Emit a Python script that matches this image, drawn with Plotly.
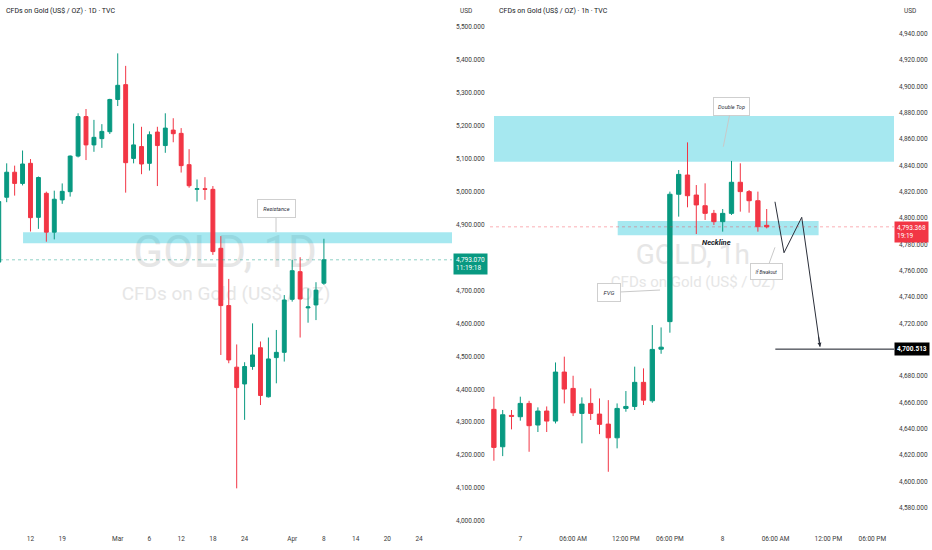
import plotly.graph_objects as go

# ---- daily panel (bar index, last bar = 8 Apr) ----
d_bar = list(range(-1, 41))
d_open = [4786, 4983, 5059, 5025, 5086, 4922, 4995, 4877, 4975, 5000,
          5108, 5228, 5142, 5161, 5182, 5280, 5325, 5101, 5137, 5086,
          5181, 5140, 5187, 5177, 5082, 5007, 5009, 5007, 4828, 4654,
          4467, 4416, 4469, 4526, 4377, 4496, 4512, 4673, 4757, 4647,
          4656, 4722]
d_high = [4975, 5086, 5079, 5125, 5099, 5046, 5000, 5003, 5025, 5110,
          5238, 5251, 5218, 5205, 5282, 5420, 5382, 5207, 5197, 5183,
          5197, 5238, 5223, 5193, 5129, 5037, 5044, 5017, 4865, 4735,
          4536, 4482, 4600, 4545, 4557, 4580, 4686, 4793, 4801, 4706,
          4725, 4857]
d_low = [4775, 4968, 4988, 5019, 4879, 4887, 4848, 4855, 4963, 4985,
         5104, 5096, 5121, 5133, 5175, 5260, 4997, 5086, 5053, 5064,
         5017, 5118, 5150, 5058, 5012, 4970, 4975, 4808, 4504, 4479,
         4099, 4307, 4459, 4352, 4375, 4418, 4484, 4666, 4557, 4602,
         4610, 4717]
d_close = [4970, 5059, 5025, 5084, 4921, 5043, 4877, 4977, 5001, 5108,
           5228, 5142, 5165, 5183, 5280, 5323, 5088, 5142, 5084, 5173,
           5140, 5193, 5176, 5079, 5018, 5009, 5007, 4818, 4654, 4489,
           4405, 4469, 4504, 4381, 4492, 4512, 4671, 4760, 4674, 4650,
           4701, 4793.07]
d_tickvals = [3, 7, 14, 18, 22, 26, 30, 36, 40, 44, 48, 52]
d_ticktext = ["12", "19", "Mar", "6", "12", "18", "24", "Apr", "8", "14", "20", "24"]
d_price_ticks = [4000, 4100, 4200, 4300, 4400, 4500, 4600, 4700,
                 4900, 5000, 5100, 5200, 5300, 5400, 5500]
resistance_zone = [4843, 4877]
d_last = 4793.07

# ---- hourly panel (bar index, 0 = 7 Apr 00:00) ----
h_bar = list(range(-3, 29))
h_open = [4654.8, 4626.4, 4650.2, 4649.2, 4659.3, 4642.9, 4653.5, 4645.9,
          4683.1, 4670.7, 4651.7, 4659.3, 4651.2, 4643.6, 4633.2, 4655.5,
          4657.0, 4675.3, 4661.3, 4700.5, 4721.4, 4818.1, 4832.7, 4817.5,
          4809.4, 4803.6, 4797.3, 4803.6, 4827.2, 4820.1, 4813.2, 4794.5]
h_high = [4664.4, 4654.3, 4654.3, 4664.4, 4661.3, 4656.3, 4657.0, 4690.4,
          4694.8, 4680.3, 4663.9, 4670.7, 4663.1, 4661.8, 4659.3, 4668.7,
          4687.2, 4685.9, 4718.8, 4717.0, 4820.1, 4836.5, 4857.5, 4825.1,
          4826.4, 4806.2, 4806.9, 4843.4, 4841.6, 4821.3, 4820.1, 4806.9]
h_low = [4615.8, 4619.3, 4639.6, 4646.2, 4622.6, 4637.6, 4637.6, 4644.1,
         4659.3, 4649.7, 4629.0, 4646.7, 4636.0, 4607.4, 4625.2, 4653.0,
         4654.3, 4658.1, 4659.8, 4697.0, 4713.0, 4801.1, 4808.2, 4787.9,
         4798.6, 4794.8, 4789.7, 4802.4, 4804.9, 4804.1, 4789.7, 4792.2]
h_close = [4625.9, 4650.7, 4649.5, 4659.3, 4642.4, 4653.5, 4645.9, 4683.1,
           4670.2, 4652.2, 4658.8, 4651.7, 4643.4, 4633.2, 4655.5, 4657.0,
           4675.3, 4661.8, 4700.3, 4702.0, 4818.1, 4833.2, 4817.0, 4810.0,
           4803.6, 4797.3, 4803.6, 4827.2, 4820.1, 4813.2, 4793.5, 4793.368]
h_tickvals = [0, 6, 12, 17, 23, 29, 35, 40]
h_ticktext = ["7", "06:00 AM", "12:00 PM", "06:00 PM", "8", "06:00 AM", "12:00 PM", "06:00 PM"]
h_price_ticks = [4580, 4600, 4620, 4640, 4660, 4680, 4720, 4740, 4760,
                 4780, 4800, 4820, 4840, 4860, 4880, 4900, 4920, 4940]
double_top_zone = [4842.8, 4877.5]
neckline_zone = [4786.9, 4797.8]
neckline_bars = [11.07, 33.9]
h_last = 4793.368
target = 4700.513
path_x = [28.94, 29.97, 31.98, 34.06]
path_y = [4812.4, 4773.7, 4800.6, 4702.3]

W, H = 932, 550
FONT = "Roboto"
UP, DN = "#089981", "#F23645"
TXT = "#2a2e39"
WM = "#e6e6e6"
ZONE = "rgba(0,188,212,0.35)"
top_px, bot_px = 20, 530
ydom = [1 - bot_px / H, 1 - top_px / H]
tickfont = dict(family=FONT, size=6.5, color="#3a3a3a")


def candles(x, o, h, l, c, xa, ya):
    return go.Candlestick(
        x=x, open=o, high=h, low=l, close=c, xaxis=xa, yaxis=ya,
        increasing=dict(line=dict(color=UP, width=1), fillcolor=UP),
        decreasing=dict(line=dict(color=DN, width=1), fillcolor=DN),
        whiskerwidth=0, hoverinfo="skip")


fig = go.Figure()
fig.add_trace(candles(d_bar, d_open, d_high, d_low, d_close, "x", "y"))
fig.add_trace(candles(h_bar, h_open, h_high, h_low, h_close, "x2", "y2"))
fig.add_trace(go.Scatter(x=path_x, y=path_y, xaxis="x2", yaxis="y2", mode="lines",
                         line=dict(color=TXT, width=1), hoverinfo="skip"))


def watermark(xr, yr, cx, cy, text, size):
    return dict(type="rect", xref=xr, yref=yr, x0=cx - 0.05, x1=cx + 0.05,
                y0=cy - 0.02, y1=cy + 0.02, line=dict(width=0),
                fillcolor="rgba(0,0,0,0)", layer="below",
                label=dict(text=text, textposition="middle center",
                           font=dict(family=FONT, size=size, color=WM)))


shapes = [
    watermark("x domain", "y domain", 0.498, 0.551, "GOLD, 1D", 44),
    watermark("x domain", "y domain", 0.5, 0.465, "CFDs on Gold (US$ / OZ)", 19),
    watermark("x2 domain", "y2 domain", 0.502, 0.545, "GOLD, 1h", 28),
    watermark("x2 domain", "y2 domain", 0.503, 0.488, "CFDs on Gold (US$ / OZ)", 15),
    dict(type="rect", xref="x", yref="y", x0=2.06, x1=56.15,
         y0=resistance_zone[0], y1=resistance_zone[1],
         line=dict(width=0), fillcolor=ZONE, layer="below"),
    dict(type="rect", xref="x2", yref="y2", x0=-2.99, x1=42.47,
         y0=double_top_zone[0], y1=double_top_zone[1],
         line=dict(width=0), fillcolor=ZONE, layer="below"),
    dict(type="rect", xref="x2", yref="y2", x0=neckline_bars[0], x1=neckline_bars[1],
         y0=neckline_zone[0], y1=neckline_zone[1],
         line=dict(width=0), fillcolor=ZONE, layer="below"),
    dict(type="line", xref="x domain", yref="y", x0=0, x1=1, y0=d_last, y1=d_last,
         line=dict(color="rgba(8,153,129,0.45)", width=1, dash="dot")),
    dict(type="line", xref="x2 domain", yref="y2", x0=0, x1=1, y0=h_last, y1=h_last,
         line=dict(color="rgba(242,54,69,0.4)", width=1, dash="dot")),
    dict(type="line", xref="x2", yref="y2", x0=28.98, x1=42.47, y0=target, y1=target,
         line=dict(color="#131722", width=1)),
]


def callout(x, y, xr, yr, text, ax, ay, w, h, size):
    return dict(x=x, y=y, xref=xr, yref=yr, text="<i>" + text + "</i>",
                showarrow=True, ax=ax, ay=ay, arrowhead=0, arrowwidth=1,
                arrowcolor="#c9c9c9", standoff=0, bgcolor="white",
                bordercolor="#cfcfcf", borderwidth=1, borderpad=2,
                width=w, height=h, font=dict(family=FONT, size=size, color=TXT))


def tag(x, y, yr, text, bg, shift):
    return dict(x=x, y=y, xref="paper", yref=yr, text=text, showarrow=False,
                xanchor="left", yanchor="middle", align="left", yshift=shift,
                bgcolor=bg, borderpad=2,
                font=dict(family=FONT, size=6.5, color="white"))


annotations = [
    dict(x=4 / W, y=1 - 11 / H, xref="paper", yref="paper", xanchor="left",
         yanchor="middle", showarrow=False,
         text="CFDs on Gold (US$ / OZ) · 1D · TVC",
         font=dict(family=FONT, size=7, color="#131722")),
    dict(x=497 / W, y=1 - 11 / H, xref="paper", yref="paper", xanchor="left",
         yanchor="middle", showarrow=False,
         text="CFDs on Gold (US$ / OZ) · 1h · TVC",
         font=dict(family=FONT, size=7, color="#131722")),
    dict(x=458 / W, y=1 - 11 / H, xref="paper", yref="paper", xanchor="left",
         yanchor="middle", showarrow=False, text="USD", font=tickfont),
    dict(x=902 / W, y=1 - 11 / H, xref="paper", yref="paper", xanchor="left",
         yanchor="middle", showarrow=False, text="USD", font=tickfont),
    callout(33.96, resistance_zone[1], "x", "y", "Resistance", 0, -23.5, 33, 13, 5.5),
    callout(23.07, 4854.2, "x2", "y2", "Double Top", 8, -40.5, 31, 13, 5.5),
    callout(15.88, 4745.4, "x2", "y2", "FVG", -51, 2.5, 18, 13, 6),
    callout(28.94, 4777.8, "x2", "y2", "If Breakout", -8.7, 24, 27, 11, 4.5),
    dict(x=22.3, y=4781.6, xref="x2", yref="y2", showarrow=False,
         text="<b><i>Neckline</i></b>",
         font=dict(family=FONT, size=7.5, color="#131722")),
    dict(x=path_x[-1], y=path_y[-1], xref="x2", yref="y2", text="",
         showarrow=True, ax=-1.7, ay=-12, arrowhead=2, arrowsize=0.8,
         arrowwidth=1, arrowcolor=TXT),
    tag(453 / W, d_last, "y", "4,793.070<br>11:19:18", UP, -4),
    tag(894 / W, h_last, "y2", "4,793.368<br>19:19    ", DN, -5),
    tag(894 / W, target, "y2", "<b>4,700.513</b>", "#000000", 0),
]

xcommon = dict(showgrid=False, zeroline=False, showline=False, ticks="",
               tickfont=tickfont, ticklabelstandoff=3,
               rangeslider=dict(visible=False), fixedrange=True)
ycommon = dict(showgrid=False, zeroline=False, showline=False, ticks="",
               side="right", tickformat=",.3f", tickfont=tickfont,
               domain=ydom, fixedrange=True)

fig.update_layout(
    width=W, height=H,
    margin=dict(l=0, r=0, t=0, b=0),
    paper_bgcolor="white", plot_bgcolor="white",
    showlegend=False,
    xaxis=dict(domain=[0, 452 / W], range=[-0.845, 56.15],
               tickvals=d_tickvals, ticktext=d_ticktext, anchor="y", **xcommon),
    yaxis=dict(anchor="x", range=[3972.5, 5521.3], tickvals=d_price_ticks,
               ticklabelstandoff=3, **ycommon),
    xaxis2=dict(domain=[490 / W, 894 / W], range=[-3.443, 42.466],
                tickvals=h_tickvals, ticktext=h_ticktext, anchor="y2", **xcommon),
    yaxis2=dict(anchor="x2", range=[4563.2, 4950.4], tickvals=h_price_ticks,
                ticklabelstandoff=4, **ycommon),
    shapes=shapes,
    annotations=annotations,
)

# page body has a default 8px margin; remove it so the figure fills the window
fig.write_html("out.html", config={"displayModeBar": False},
               post_script="document.body.style.margin='0';")
